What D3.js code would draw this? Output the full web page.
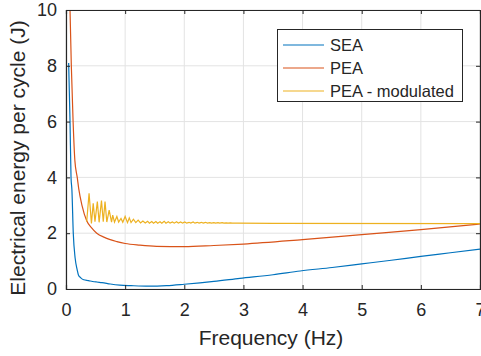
<!DOCTYPE html>
<html><head><meta charset="utf-8">
<script src="https://cdn.jsdelivr.net/npm/d3@7"></script>
<style>body{margin:0;background:#fff}svg{display:block}text{font-family:"Liberation Sans",Arial,sans-serif;fill:#262626}</style>
</head><body><svg id="c" width="481" height="356"></svg>
<script>
const xTicks = [0,1,2,3,4,5,6,7];
const yTicks = [0,2,4,6,8,10];
const seriesNames = ["SEA","PEA","PEA - modulated"];
const seriesColors = ["#0072BD","#D95319","#EDB120"];

const seaFreq = [0.045,0.068,0.085,0.10,0.123,0.155,0.19,0.21,0.25,0.30,0.38,0.45,0.52,0.61,0.75,0.91,1.1,1.4,1.7,2.0,2.5,2.94,3.5,3.96,4.5,5,5.5,6,6.5,7];
const seaVals = [8.1,6.0,4.0,3.55,2.0,1.1,0.68,0.5,0.40,0.33,0.30,0.27,0.25,0.23,0.18,0.14,0.12,0.10,0.12,0.17,0.27,0.38,0.51,0.645,0.77,0.90,1.03,1.17,1.30,1.43];

const peaFreq = [0.068,0.09,0.12,0.15,0.19,0.215,0.27,0.35,0.43,0.52,0.65,0.86,1.0,1.25,1.53,2.0,2.5,3,4,5,6,7];
const peaVals = [10,8,6,4.6,4.0,3.6,3.0,2.45,2.2,2.0,1.85,1.7,1.63,1.57,1.53,1.52,1.56,1.61,1.77,1.95,2.13,2.33];

const modFreq = [0.35,0.39,0.43,0.46,0.49,0.53,0.56,0.60,0.63,0.66,0.69,0.73,0.77,0.79,0.82,0.86,0.89,0.93,0.96,1.00,1.04,1.07,1.10,1.14,1.18,1.22,1.26,1.30,1.34,1.38,1.41,1.45,1.48,1.52,1.55,1.59,1.62,1.66,1.69,1.73,1.76,1.80,1.83,1.87,1.90,1.94,1.97,2.01,2.04,2.08,2.11,2.15,2.18,2.22,2.25,2.29,2.32,2.36,2.39,2.43,2.46,2.50,2.53,2.57,2.60,2.64,2.67,2.71,2.74,2.78,2.81,2.90,3.5,7];
const modVals = [2.41,3.43,2.35,3.07,2.41,3.13,2.39,3.17,2.41,3.13,2.40,2.83,2.40,2.65,2.40,2.60,2.40,2.53,2.39,2.60,2.38,2.55,2.38,2.50,2.38,2.47,2.37,2.44,2.37,2.43,2.36,2.42,2.36,2.42,2.36,2.41,2.36,2.43,2.36,2.41,2.36,2.40,2.36,2.41,2.36,2.40,2.36,2.40,2.36,2.39,2.36,2.40,2.36,2.39,2.36,2.39,2.36,2.39,2.36,2.38,2.36,2.38,2.36,2.38,2.36,2.38,2.36,2.37,2.36,2.37,2.36,2.36,2.355,2.345];

const L=66,T=10,R=480,B=289;
const svg=d3.select("#c");
const x=d3.scaleLinear().domain([0,7]).range([L,R]);
const y=d3.scaleLinear().domain([0,10]).range([B,T]);

// grid
const g=svg.append("g");
g.selectAll(".gx").data(xTicks).enter().append("line")
 .attr("x1",d=>x(d)).attr("x2",d=>x(d)).attr("y1",T).attr("y2",B)
 .attr("stroke","#e3e3e3").attr("stroke-width",1);
g.selectAll(".gy").data(yTicks).enter().append("line")
 .attr("x1",L).attr("x2",R).attr("y1",d=>y(d)).attr("y2",d=>y(d))
 .attr("stroke","#e3e3e3").attr("stroke-width",1);

svg.append("defs").append("clipPath").attr("id","clp").append("rect")
 .attr("x",L).attr("y",T).attr("width",R-L).attr("height",B-T);

const series=[
 {f:seaFreq,v:seaVals,curve:d3.curveMonotoneX},
 {f:peaFreq,v:peaVals,curve:d3.curveMonotoneX},
 {f:modFreq,v:modVals,curve:d3.curveLinear}
];
const lines=svg.append("g").attr("clip-path","url(#clp)");
series.forEach((s,i)=>{
 const pts=s.f.map((f,j)=>[f,s.v[j]]);
 lines.append("path").attr("d",d3.line().x(d=>x(d[0])).y(d=>y(d[1])).curve(s.curve)(pts))
  .attr("fill","none").attr("stroke",seriesColors[i]).attr("stroke-width",1.2);
});

// axes
const axB=svg.append("g").attr("transform",`translate(0,${B})`)
 .call(d3.axisBottom(x).tickValues(xTicks).tickSize(-4).tickPadding(14).tickFormat(d3.format("d")));
const axL=svg.append("g").attr("transform",`translate(${L},0)`)
 .call(d3.axisLeft(y).tickValues(yTicks).tickSize(-4).tickPadding(9).tickFormat(d3.format("d")));
const axT=svg.append("g").attr("transform",`translate(0,${T})`)
 .call(d3.axisTop(x).tickValues(xTicks).tickSize(-4).tickFormat(""));
const axR=svg.append("g").attr("transform",`translate(${R},0)`)
 .call(d3.axisRight(y).tickValues(yTicks).tickSize(-4).tickFormat(""));
[axB,axL,axT,axR].forEach(a=>{
 a.select(".domain").attr("stroke","#262626").attr("stroke-width",1.2);
 a.selectAll(".tick line").attr("stroke","#262626");
 a.selectAll("text").style("font-size","18px").attr("fill","#262626")
  .style("font-family",'"Liberation Sans",Arial,sans-serif');
});

svg.append("text").attr("x",271).attr("y",345).attr("text-anchor","middle")
 .style("font-size","21px").text("Frequency (Hz)");
svg.append("text").attr("transform",`translate(25,158) rotate(-90)`).attr("text-anchor","middle")
 .style("font-size","21px").text("Electrical energy per cycle (J)");

// legend
const lg=svg.append("g");
lg.append("rect").attr("x",277.5).attr("y",29.5).attr("width",185).attr("height",72)
 .attr("fill","#fff").attr("stroke","#262626").attr("stroke-width",1);
seriesNames.forEach((n,i)=>{
 const yy=45+i*23;
 lg.append("line").attr("x1",283).attr("x2",324).attr("y1",yy).attr("y2",yy)
  .attr("stroke",seriesColors[i]).attr("stroke-width",1.2);
 lg.append("text").attr("x",330).attr("y",yy).attr("dy","0.35em").style("font-size","16.5px").text(n);
});
</script></body></html>
